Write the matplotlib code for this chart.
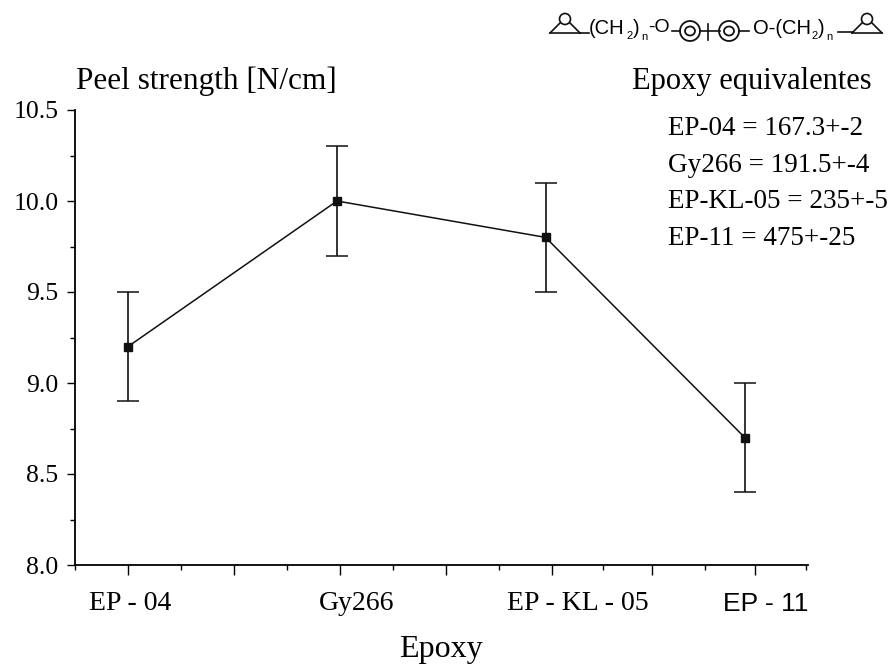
import matplotlib
matplotlib.use("Agg")
import matplotlib.pyplot as plt
from matplotlib.lines import Line2D
from matplotlib.patches import Ellipse

# values
epoxy_x = [1.0, 1.986, 2.97, 3.91]
peel = [9.2, 10.0, 9.8, 8.7]
peel_err = [0.3, 0.3, 0.3, 0.3]
cat_labels = ["EP - 04", "Gy266", "EP - KL - 05", "EP - 11"]
cat_label_x = [1.01, 2.08, 3.12, 4.01]
y_major = [8.0, 8.5, 9.0, 9.5, 10.0, 10.5]
y_minor = [8.25, 8.75, 9.25, 9.75, 10.25]
x_major = [1, 1.5, 2, 2.5, 3, 3.47, 3.96]
x_minor = [0.75, 1.25, 1.75, 2.25, 2.75, 3.24, 3.72, 4.2]
equiv = ["EP-04 = 167.3+-2", "Gy266 = 191.5+-4", "EP-KL-05 = 235+-5", "EP-11 = 475+-25"]

W, H = 892, 664
plt.rcParams['font.family'] = ['Liberation Serif', 'DejaVu Serif']

fig = plt.figure(figsize=(W / 100, H / 100), dpi=100)
ax = fig.add_axes([75 / W, 1 - 565 / H, 733 / W, 455 / H])

ax.errorbar(epoxy_x, peel, yerr=peel_err, color="#111111", lw=1.1, elinewidth=1.2,
            capsize=8, capthick=1.1, marker="s", ms=6, mfc="#111111", mec="#111111")

ax.set_xlim(0.75, 4.208)
ax.set_ylim(8.0, 10.5)
ax.spines["top"].set_visible(False)
ax.spines["right"].set_visible(False)
ax.spines["left"].set_linewidth(1.3)
ax.spines["bottom"].set_linewidth(1.3)

ax.set_yticks(y_major)
ax.set_yticks(y_minor, minor=True)
ax.set_yticklabels(["%.1f" % v for v in y_major], fontsize=18.5)
ax.set_xticks(x_major)
ax.set_xticks(x_minor, minor=True)
ax.set_xticklabels([])
ax.tick_params(axis="both", which="major", length=7, width=1, pad=6)
ax.tick_params(axis="both", which="minor", length=3.5, width=1)
ax.tick_params(axis="y", which="major", length=6)

# category labels do not sit on the ticks in the original
trans = ax.get_xaxis_transform()
for x, lab in zip(cat_label_x, cat_labels):
    if lab == "EP - 11":
        ax.text(x, -0.085, lab, transform=trans, ha="center", va="center", fontsize=19,
                family="Liberation Sans")
    else:
        ax.text(x, -0.085, lab, transform=trans, ha="center", va="center", fontsize=20)


def px(x, y):
    return x / W, 1 - y / H


def ftext(x, y, s, **kw):
    kw.setdefault("va", "center")
    fig.text(*px(x, y), s, **kw)


ftext(441, 649, "Epoxy", fontsize=23, ha="center")
ftext(76, 81, "Peel strength [N/cm]", fontsize=22.5, ha="left")
ftext(632, 81, "Epoxy equivalentes", fontsize=22, ha="left")
for y, s in zip([135, 172, 208, 245], equiv):
    ftext(668, y, s, fontsize=19.5, ha="left", va="baseline")


# chemical formula at the top right
def seg(x0, y0, x1, y1, lw=1.2):
    a, b = px(x0, y0), px(x1, y1)
    fig.add_artist(Line2D([a[0], b[0]], [a[1], b[1]], color="#111111", lw=lw))


def epoxide(cx):
    seg(cx - 15, 33, cx + 15, 33)
    seg(cx - 15, 33, cx - 5, 23)
    seg(cx + 15, 33, cx + 5, 23)
    fig.add_artist(Ellipse(px(cx, 19), 11 / W, 11 / H, fill=False, ec="#111111", lw=1.2))


def ring(cx):
    fig.add_artist(Ellipse(px(cx, 31), 20 / W, 20 / H, fill=False, ec="#111111", lw=1.3))
    fig.add_artist(Ellipse(px(cx, 31), 10 / W, 9 / H, fill=False, ec="#111111", lw=1.3))


form = dict(family="Liberation Sans", ha="left")
epoxide(565)
seg(580, 33, 589, 33)
ftext(589, 28, "(CH", fontsize=14.5, **form)
ftext(626, 36, "2", fontsize=8, **form)
ftext(633, 28, ")", fontsize=14.5, **form)
ftext(641, 37, "n", fontsize=8, **form)
ftext(648, 28, "-O", fontsize=14, **form)
seg(672, 31, 680, 31)
ring(690)
seg(700, 31, 720, 31)
seg(708, 24, 708, 40)
ring(729)
seg(739, 31, 749, 31)
ftext(753, 28, "O-(CH", fontsize=14.5, **form)
ftext(811, 36, "2", fontsize=8, **form)
ftext(818, 28, ")", fontsize=14.5, **form)
ftext(826, 37, "n", fontsize=8, **form)
seg(838, 32, 853, 32)
epoxide(867)

fig.savefig("out.png", dpi=100)
